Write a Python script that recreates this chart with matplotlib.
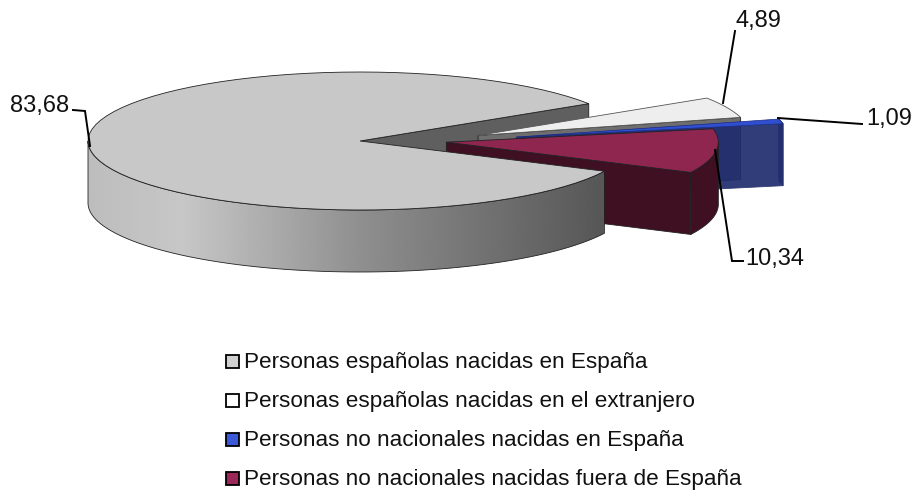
import numpy as np
import matplotlib
matplotlib.use('Agg')
import matplotlib.pyplot as plt
from matplotlib.patches import Polygon, Rectangle

# values from the chart labels, clockwise from the gray slice
values = [83.68, 4.89, 1.09, 10.34]
value_labels = ['83,68', '4,89', '1,09', '10,34']
names = ['Personas españolas nacidas en España',
         'Personas españolas nacidas en el extranjero',
         'Personas no nacionales nacidas en España',
         'Personas no nacionales nacidas fuera de España']
top_colors = ['#c8c8c8', '#eeeeee', '#2f4fd0', '#8e2650']
wall_colors = ['#5f5f5f', '#6e6e6e', '#2b3570', '#3f1022']
legend_colors = ['#d0d0d0', '#ffffff', '#3a58d8', '#9a2858']
explode = [0.0, 0.475, 0.59, 0.32]

# pie geometry in pixels
cx, cy = 360, 141
rx, ry = 272, 69
depth = 62
ry_explode = 29
start_angle = -26.0

plt.rcParams['font.family'] = ['Liberation Sans', 'DejaVu Sans']
fig = plt.figure(figsize=(9.14, 4.94), dpi=100)
ax = fig.add_axes([0, 0, 1, 1])
ax.set_xlim(0, 914)
ax.set_ylim(494, 0)
ax.axis('off')


def arc(x0, y0, a0, a1, n=80):
    t = np.radians(np.linspace(a0, a1, n))
    return x0 + rx*np.cos(t), y0 - ry*np.sin(t)


slices = []
a = start_angle
for v, e in zip(values, explode):
    b = a - v*3.6
    m = np.radians((a + b)/2)
    slices.append((cx + e*rx*np.cos(m), cy - e*ry_explode*np.sin(m), a, b))
    a = b


def top_poly(s):
    x0, y0, a0, a1 = s
    xs, ys = arc(x0, y0, a0, a1)
    return np.column_stack([np.r_[x0, xs], np.r_[y0, ys]])


def cut_face(s, ang):
    # flat radial face of a slice, going down by depth
    x0, y0 = s[0], s[1]
    xs, ys = arc(x0, y0, ang, ang, 1)
    return [(x0, y0), (xs[0], ys[0]), (xs[0], ys[0] + depth), (x0, y0 + depth)]


def outer_wall(s, a0, a1):
    xs, ys = arc(s[0], s[1], a0, a1)
    return np.column_stack([np.r_[xs, xs[::-1]], np.r_[ys, ys[::-1] + depth]])


edge = dict(edgecolor='#222222', linewidth=0.6)

# gray slice: back cut face goes first, everything else sits on top of it
gray, white, blue, maroon = slices
ax.add_patch(Polygon(cut_face(gray, gray[3]), facecolor=wall_colors[0], zorder=1, **edge))

# white slice
ax.add_patch(Polygon(cut_face(white, white[3]), facecolor=wall_colors[1], zorder=2, **edge))
ax.add_patch(Polygon(top_poly(white), facecolor=top_colors[1], zorder=3, edgecolor='#555555', linewidth=0.6))

# blue slice, see-through like the original
ax.add_patch(Polygon(outer_wall(blue, blue[2], blue[3]), facecolor='#3a4a90', zorder=4, edgecolor='#2b3570', linewidth=0.6))
ax.add_patch(Polygon(cut_face(blue, blue[3]), facecolor='#1f2c6e', alpha=0.92, zorder=4.5,
                     edgecolor='#2b3570', linewidth=0.6))
ax.add_patch(Polygon(top_poly(blue), facecolor=top_colors[2], zorder=5, edgecolor='#1a2a80', linewidth=0.5))

# maroon slice
ax.add_patch(Polygon(cut_face(maroon, maroon[3]), facecolor=wall_colors[3], zorder=6, **edge))
ax.add_patch(Polygon(outer_wall(maroon, maroon[3], -360), facecolor=wall_colors[3], zorder=6.5, **edge))
ax.add_patch(Polygon(top_poly(maroon), facecolor=top_colors[3], zorder=7, **edge))

# gray wall with horizontal shading
wall = Polygon(outer_wall(gray, gray[2], -180), transform=ax.transData, facecolor='none', zorder=8)
ax.add_patch(wall)
grad_x = [0.0, 0.18, 0.31, 0.53, 1.0]
grad_v = [0.74, 0.78, 0.70, 0.56, 0.34]
ramp = np.interp(np.linspace(0, 1, 256), grad_x, grad_v)
im = ax.imshow(ramp[None, :], extent=(88, 604, 280, 100), cmap='gray', vmin=0, vmax=1,
               aspect='auto', zorder=8, interpolation='bilinear')
im.set_clip_path(wall)
ax.set_xlim(0, 914)
ax.set_ylim(494, 0)
ax.add_patch(Polygon(outer_wall(gray, gray[2], -180), facecolor='none', zorder=8.5, **edge))
ax.add_patch(Polygon(top_poly(gray), facecolor=top_colors[0], zorder=9, **edge))

# leader lines
leader = dict(color='black', linewidth=1.4, zorder=10, solid_joinstyle='miter')
ax.plot([73, 85, 90], [110, 111, 146], **leader)
ax.plot([735, 723], [31, 103], **leader)
ax.plot([778, 862], [118, 124], **leader)
ax.plot([715, 732, 743], [150, 261, 261], **leader)

# value labels
ax.text(10, 106, value_labels[0], fontsize=17, va='center', ha='left', color='#111111', zorder=11)
ax.text(735, 21, value_labels[1], fontsize=17, va='center', ha='left', color='#111111', zorder=11)
ax.text(866, 119, value_labels[2], fontsize=17, va='center', ha='left', color='#111111', zorder=11)
ax.text(745, 259, value_labels[3], fontsize=17, va='center', ha='left', color='#111111', zorder=11)

# legend
for i, name in enumerate(names):
    y = 361 + i*39
    ax.add_patch(Rectangle((226, y - 6), 13, 13, facecolor=legend_colors[i], edgecolor='black', linewidth=1.3))
    ax.text(244, y + 1, name, fontsize=16.2, va='center', ha='left', color='#111111')

fig.savefig('out.png', dpi=100)
